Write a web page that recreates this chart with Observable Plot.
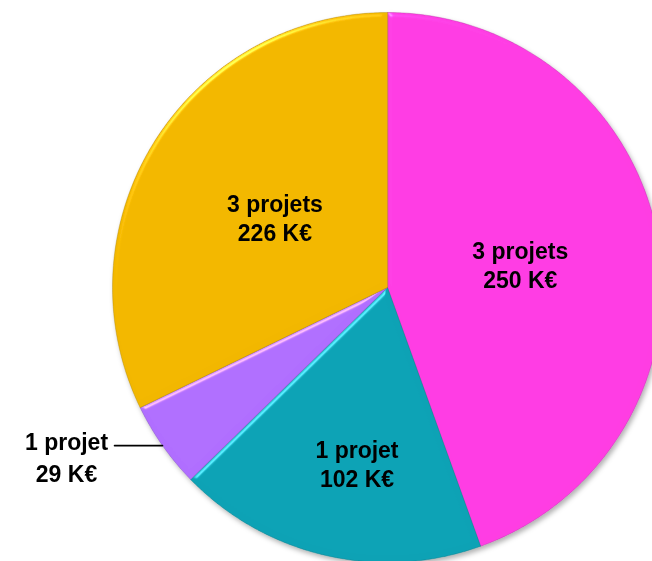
<!DOCTYPE html>
<html>
<head>
<meta charset="utf-8">
<script src="https://cdn.jsdelivr.net/npm/d3@7"></script>
<script src="https://cdn.jsdelivr.net/npm/@observablehq/plot@0.6"></script>
<style>
  html, body { margin: 0; padding: 0; background: #fff; }
  #chart svg { display: block; }
</style>
</head>
<body>
<div id="chart"></div>
<script>
// ---- data (clockwise from 12 o'clock) ----
const projectLabels = ["3 projets", "1 projet", "1 projet", "3 projets"];
const amountsK = [250, 102, 29, 226];
// share of the full circle each slice occupies in the picture (percent)
const sliceShare = [44.5, 18.2, 5.1, 32.2];
const sliceColors = ["#ff3de3", "#0ba2b5", "#b06eff", "#f2b700"];

const rows = projectLabels.map((p, i) => ({
  key: i, projets: p, amount: amountsK[i], share: sliceShare[i], color: sliceColors[i]
}));

// ---- layout ----
const W = 652, H = 561, cx = 387, cy = 287, R = 275;
const arcs = d3.pie().sort(null).value(d => d.share)(rows);

function slicePoints(a) {
  const pts = [{x: 0, y: 0}];
  const n = Math.max(2, Math.ceil((a.endAngle - a.startAngle) / (Math.PI / 360)));
  for (let i = 0; i <= n; i++) {
    const t = a.startAngle + (a.endAngle - a.startAngle) * i / n;
    pts.push({x: Math.sin(t), y: Math.cos(t)});
  }
  return pts;
}
const mid = a => (a.startAngle + a.endAngle) / 2;

// label placement (style): radius fraction and pixel nudge per slice
const labelPlace = {0: {r: 0.49, dx: 0}, 1: {r: 0.657, dx: 10}, 3: {r: 0.483, dx: 0}};
const insideLabels = arcs.filter(a => labelPlace[a.data.key]).map(a => {
  const p = labelPlace[a.data.key], m = mid(a);
  return {x: p.r * Math.sin(m), y: p.r * Math.cos(m), dx: p.dx,
          text: a.data.projets + "\n" + a.data.amount + " K€"};
});
const small = arcs[2];
const edge = {x: Math.sin(mid(small)), y: Math.cos(mid(small))};
const leaderEnd = {x: edge.x - 48 / R, y: edge.y};

const font = "'Liberation Sans', Arial, sans-serif";

const plot = Plot.plot({
  width: W, height: H, margin: 0,
  x: {domain: [-cx / R, (W - cx) / R], axis: null},
  y: {domain: [-(H - cy) / R, cy / R], axis: null},
  style: {background: "transparent", overflow: "visible"},
  marks: [
    ...arcs.map(a => Plot.line(slicePoints(a), {
      x: "x", y: "y", fill: a.data.color, stroke: d3.color(a.data.color).darker(1.2).formatHex(),
      strokeWidth: 1, strokeOpacity: 0.35, curve: "linear-closed"
    })),
    ...insideLabels.map(l => Plot.text([l], {
      x: "x", y: "y", text: "text", dx: l.dx, fontSize: 23, fontWeight: "bold",
      fontFamily: font, fill: "#000", lineHeight: 1.26, textAnchor: "middle"
    })),
    Plot.line([edge, leaderEnd], {x: "x", y: "y", stroke: "#000", strokeWidth: 1.6}),
    Plot.text([leaderEnd], {
      x: "x", y: "y", text: () => small.data.projets + "\n" + small.data.amount + " K€",
      dx: -48, dy: 10, fontSize: 23, fontWeight: "bold", fontFamily: font,
      fill: "#000", lineHeight: 1.42, textAnchor: "middle"
    })
  ]
});

// 3D-ish bevel and shadow, as in the original
try {
  const svgNS = "http://www.w3.org/2000/svg";
  const defs = document.createElementNS(svgNS, "defs");
  defs.innerHTML = `
    <filter id="bevel" x="-5%" y="-5%" width="110%" height="110%" color-interpolation-filters="sRGB">
      <feGaussianBlur in="SourceAlpha" stdDeviation="2.5" result="blur"/>
      <feSpecularLighting in="blur" surfaceScale="3" specularConstant="0.7" specularExponent="40" lighting-color="#ffffff" result="spec">
        <feDistantLight azimuth="235" elevation="30"/>
      </feSpecularLighting>
      <feComposite in="spec" in2="SourceAlpha" operator="in" result="specIn"/>
      <feComposite in="SourceGraphic" in2="specIn" operator="arithmetic" k1="0" k2="1" k3="0.5" k4="0"/>
    </filter>
    <filter id="shadow" x="-10%" y="-10%" width="120%" height="120%">
      <feDropShadow dx="2" dy="3" stdDeviation="2.5" flood-color="#000" flood-opacity="0.3"/>
    </filter>`;
  plot.insertBefore(defs, plot.firstChild);
  const sliceGroups = Array.from(plot.querySelectorAll("g")).filter(g => {
    const f = (g.getAttribute("fill") || "").toLowerCase();
    return sliceColors.includes(f);
  });
  sliceGroups.forEach(g => g.querySelectorAll("path").forEach(p => p.setAttribute("filter", "url(#bevel)")));
  if (sliceGroups.length) {
    const wrap = document.createElementNS(svgNS, "g");
    wrap.setAttribute("filter", "url(#shadow)");
    sliceGroups[0].parentNode.insertBefore(wrap, sliceGroups[0]);
    sliceGroups.forEach(n => wrap.appendChild(n));
  }
} catch (e) { console.warn(e); }

document.getElementById("chart").appendChild(plot);
</script>
</body>
</html>
